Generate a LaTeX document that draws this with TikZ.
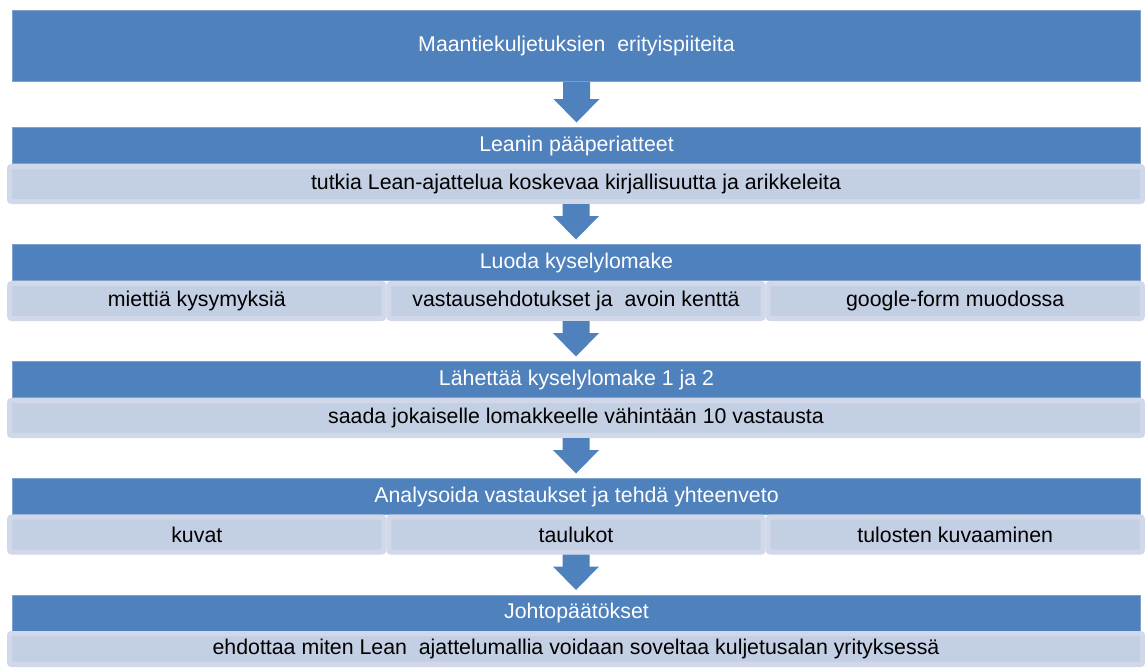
\documentclass[tikz,border=0pt]{standalone}
\usepackage{fontspec}
\setmainfont{Liberation Sans}
\usetikzlibrary{calc}
\definecolor{hdrblue}{HTML}{4F81BD}
\definecolor{hdredge}{HTML}{7FA1CD}
\definecolor{subfill}{HTML}{C3CFE3}
\definecolor{subedge}{HTML}{D0D8E9}

% block arrow from the bottom of one node to the top of the next
\newcommand\flowarrow[2]{%
  \fill[hdrblue] let \p1=(#1.south), \p2=(#2.north) in
    (\x1-13.5pt,\y1) -- (\x1+13.5pt,\y1) -- (\x1+13.5pt,\y2+28pt)
    -- (\x1+23pt,\y2+28pt) -- (\x1,\y2+4.5pt) -- (\x1-23pt,\y2+28pt)
    -- (\x1-13.5pt,\y2+28pt) -- cycle;}

\begin{document}
\begin{tikzpicture}[x=1pt,y=-1pt,
  txt/.style={font=\fontsize{21.33}{25}\selectfont},
  topbox/.style={txt, fill=hdrblue, draw=hdredge, line width=0.8pt,
    text=white, minimum width=1128pt, minimum height=71pt, inner sep=0pt},
  hdrbox/.style={txt, fill=hdrblue, draw=hdredge, line width=0.6pt, text=white,
    minimum width=1128.4pt, minimum height=36.4pt, inner sep=0pt},
  subbox/.style={txt, fill=subfill, draw=subedge, line width=5pt,
    rounded corners=2pt, text=black, minimum height=35pt, inner sep=0pt},
  wide/.style={subbox, minimum width=1133pt},
  third/.style={subbox, minimum width=374.3pt}]

\useasboundingbox (0,0) rectangle (1145,667);

% title
\node[topbox] (t0) at (576.5,46) {Maantiekuljetuksien\ \ erityispiiteita};

% stage headers
\node[hdrbox] (h1) at (576.5,145.5) {Leanin pääperiatteet};
\node[hdrbox] (h2) at (576.5,262.5) {Luoda kyselylomake};
\node[hdrbox] (h3) at (576.5,379.5) {Lähettää kyselylomake 1 ja 2};
\node[hdrbox] (h4) at (576.5,496.5) {Analysoida vastaukset ja tehdä yhteenveto};
\node[hdrbox] (h5) at (576.5,613) {Johtopäätökset};

% details under each header
\node[wide] (s1) at (576,184) {tutkia Lean-ajattelua koskevaa kirjallisuutta ja arikkeleita};

\node[third] (s2a) at (196.8,301) {miettiä kysymyksiä};
\node[third] (s2b) at (576,301) {vastausehdotukset ja\ \ avoin kenttä};
\node[third] (s2c) at (955.2,301) {google-form muodossa};

\node[wide] (s3) at (576,418) {saada jokaiselle lomakkeelle vähintään 10 vastausta};

\node[third] (s4a) at (196.8,534.5) {kuvat};
\node[third] (s4b) at (576,534.5) {taulukot};
\node[third] (s4c) at (955.2,534.5) {tulosten kuvaaminen};

\node[wide, minimum height=31pt] (s5) at (576,649) {ehdottaa miten Lean\ \ ajattelumallia voidaan soveltaa kuljetusalan yrityksessä};

% arrows between the stages
\flowarrow{t0}{h1}
\flowarrow{s1}{h2}
\flowarrow{s2b}{h3}
\flowarrow{s3}{h4}
\flowarrow{s4b}{h5}
\end{tikzpicture}
\end{document}
